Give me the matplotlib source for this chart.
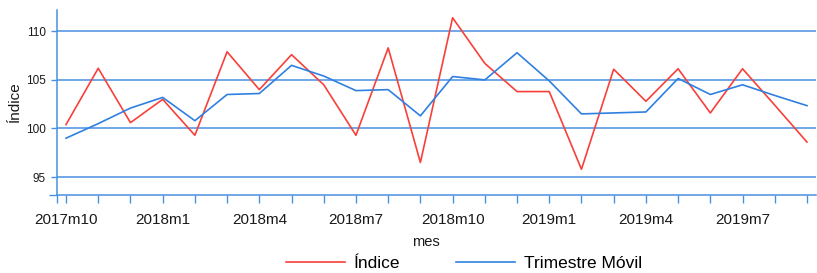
import matplotlib
matplotlib.use("Agg")
import matplotlib.pyplot as plt

meses = ["2017m10", "2017m11", "2017m12", "2018m1", "2018m2", "2018m3",
         "2018m4", "2018m5", "2018m6", "2018m7", "2018m8", "2018m9",
         "2018m10", "2018m11", "2018m12", "2019m1", "2019m2", "2019m3",
         "2019m4", "2019m5", "2019m6", "2019m7", "2019m8", "2019m9"]
indice = [100.4, 106.2, 100.6, 103.0, 99.3, 107.9, 104.0, 107.6, 104.5, 99.3,
          108.3, 96.5, 111.4, 106.7, 103.8, 103.8, 95.8, 106.1, 102.8, 106.15,
          101.6, 106.15, 102.4, 98.6]
trimestre = [99.0, 100.5, 102.1, 103.2, 100.8, 103.5, 103.6, 106.5, 105.4, 103.9,
             104.0, 101.3, 105.35, 105.0, 107.8, 104.9, 101.5, 101.6, 101.7, 105.15,
             103.5, 104.5, 103.4, 102.35]
yticks = [95, 100, 105, 110]

RED = "#f8403a"
BLUE = "#2f80e0"
GRID = "#4a90e2"

plt.rcParams['font.family'] = ['Liberation Sans', 'DejaVu Sans']

fig = plt.figure(figsize=(8.17, 2.73), dpi=100)
ax = fig.add_axes([57 / 817, 1 - 195 / 273, 759 / 817, 185 / 273])

x = list(range(len(meses)))
ax.plot(x, indice, color=RED, lw=1.2, label="Índice", zorder=3)
ax.plot(x, trimestre, color=BLUE, lw=1.2, label="Trimestre Móvil", zorder=3)

ax.set_xlim(-0.28, 23.28)
ax.set_ylim(93.15, 112.2)

ax.set_xticks(x)
ax.set_xticklabels([m if i % 3 == 0 else "" for i, m in enumerate(meses)])
ax.set_yticks(yticks)
ax.set_yticklabels([str(v) for v in yticks])
ax.set_xticks([-0.28], minor=True)
ax.set_yticks([93.15], minor=True)

ax.grid(axis="y", color=GRID, lw=1.1, zorder=1)
for s in ["top", "right"]:
    ax.spines[s].set_visible(False)
for s in ["left", "bottom"]:
    ax.spines[s].set_color(GRID)
    ax.spines[s].set_linewidth(1.1)

ax.tick_params(axis="x", which="both", colors=GRID, length=6, width=1, labelsize=11,
               labelcolor="#1a1a1a", pad=7)
ax.tick_params(axis="y", which="both", colors=GRID, length=4, width=1, labelsize=8.5,
               labelcolor="#1a1a1a", pad=4)
ax.tick_params(axis="y", which="minor", length=6)

ax.set_xlabel("mes", fontsize=10.5, color="#1a1a1a", va="center")
ax.xaxis.set_label_coords(0.486, -0.254)
ax.set_ylabel("Índice", fontsize=11, color="#1a1a1a", va="center")
ax.yaxis.set_label_coords(-0.0553, 0.503)

fig.legend(loc="center", bbox_to_anchor=(464 / 817, 1 - 263 / 273), ncol=2,
           frameon=False, fontsize=12.5, handlelength=3.4, handletextpad=0.5,
           columnspacing=3.2)

fig.savefig("out.png", dpi=100)
